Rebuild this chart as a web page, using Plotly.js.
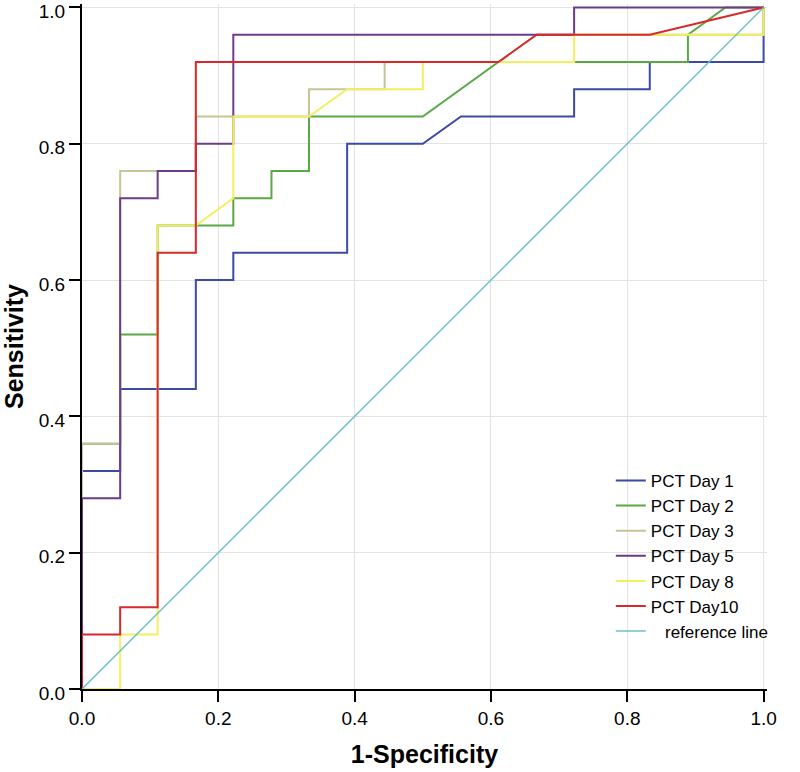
<!DOCTYPE html>
<html>
<head>
<meta charset="utf-8">
<script src="https://cdn.plot.ly/plotly-3.0.1.min.js"></script>
<style>html,body{margin:0;padding:0;background:#fff;}#chart{width:800px;height:772px;}</style>
</head>
<body>
<div id="chart"></div>
<script>
// Series names
const seriesNames = ["PCT Day 1", "PCT Day 2", "PCT Day 3", "PCT Day 5", "PCT Day 8", "PCT Day10"];
const refName = "\u00a0\u00a0\u00a0reference line";

// ROC curve points (1-Specificity, Sensitivity)
const day1X = [0,0,0.056,0.056,0.167,0.167,0.222,0.222,0.389,0.389,0.5,0.556,0.722,0.722,0.833,0.833,1,1];
const day1Y = [0,0.32,0.32,0.44,0.44,0.6,0.6,0.64,0.64,0.8,0.8,0.84,0.84,0.88,0.88,0.92,0.92,1];

const day2X = [0,0,0.056,0.056,0.111,0.111,0.222,0.222,0.278,0.278,0.333,0.333,0.5,0.611,0.889,0.889,0.944,1];
const day2Y = [0,0.36,0.36,0.52,0.52,0.68,0.68,0.72,0.72,0.76,0.76,0.84,0.84,0.92,0.92,0.96,1,1];

const day3X = [0,0,0.056,0.056,0.167,0.167,0.333,0.333,0.444,0.444,0.611,0.667,1,1];
const day3Y = [0,0.36,0.36,0.76,0.76,0.84,0.84,0.88,0.88,0.92,0.92,0.96,0.96,1];

const day5X = [0,0,0.056,0.056,0.111,0.111,0.167,0.167,0.222,0.222,0.722,0.722,1];
const day5Y = [0,0.28,0.28,0.72,0.72,0.76,0.76,0.8,0.8,0.96,0.96,1,1];

const day8X = [0,0.056,0.056,0.111,0.111,0.167,0.222,0.222,0.333,0.389,0.5,0.5,0.722,0.722,1,1];
const day8Y = [0,0,0.08,0.08,0.68,0.68,0.72,0.84,0.84,0.88,0.88,0.92,0.92,0.96,0.96,1];

const day10X = [0,0,0.056,0.056,0.111,0.111,0.167,0.167,0.611,0.667,0.833,1];
const day10Y = [0,0.08,0.08,0.12,0.12,0.64,0.64,0.92,0.92,0.96,0.96,1];

const refX = [0, 1];
const refY = [0, 1];

const tickVals = [0, 0.2, 0.4, 0.6, 0.8, 1.0];
const tickText = ["0.0", "0.2", "0.4", "0.6", "0.8", "1.0"];

const colors = ["#3b4aa6", "#5aa845", "#c5c597", "#6d3a8c", "#f4ee60", "#d8282b"];
const refColor = "#6cc2c4";

const xs = [day1X, day2X, day3X, day5X, day8X, day10X];
const ys = [day1Y, day2Y, day3Y, day5Y, day8Y, day10Y];

const traces = seriesNames.map((n, i) => ({
  x: xs[i], y: ys[i], name: n, type: "scatter", mode: "lines",
  line: {color: colors[i], width: 2}
}));
traces.push({x: refX, y: refY, name: refName, type: "scatter", mode: "lines",
  line: {color: refColor, width: 1.5}});

const axisCommon = {
  tickvals: tickVals, ticktext: tickText,
  showline: true, linecolor: "#000", linewidth: 2, mirror: false,
  ticks: "outside", ticklen: 11, tickwidth: 2, tickcolor: "#000",
  showgrid: true, gridcolor: "#e3e3e3", gridwidth: 1, zeroline: false,
  ticklabeloverflow: "allow",
  tickfont: {family: "Liberation Sans, Arial, sans-serif", size: 19, color: "#000"},
  fixedrange: true
};

const layout = {
  width: 800, height: 772,
  margin: {l: 82, r: 33, t: 4, b: 83},
  paper_bgcolor: "#fff", plot_bgcolor: "#fff",
  xaxis: Object.assign({}, axisCommon, {
    range: [0, 1.005],
    title: {text: "<b>1-Specificity</b>", standoff: 18,
      font: {family: "Liberation Sans, Arial, sans-serif", size: 25, color: "#000"}}
  }),
  yaxis: Object.assign({}, axisCommon, {
    range: [0, 1.005],
    ticklabelshift: 4,
    title: {text: "<b>Sensitivity</b>", standoff: 16,
      font: {family: "Liberation Sans, Arial, sans-serif", size: 25, color: "#000"}}
  }),
  showlegend: true,
  legend: {
    x: 0.772, y: 0.33, xanchor: "left", yanchor: "top",
    bgcolor: "rgba(0,0,0,0)", borderwidth: 0,
    font: {family: "Liberation Sans, Arial, sans-serif", size: 17, color: "#000"},
    tracegroupgap: 0, itemwidth: 30
  }
};

Plotly.newPlot("chart", traces, layout, {displayModeBar: false, staticPlot: true});
</script>
</body>
</html>
